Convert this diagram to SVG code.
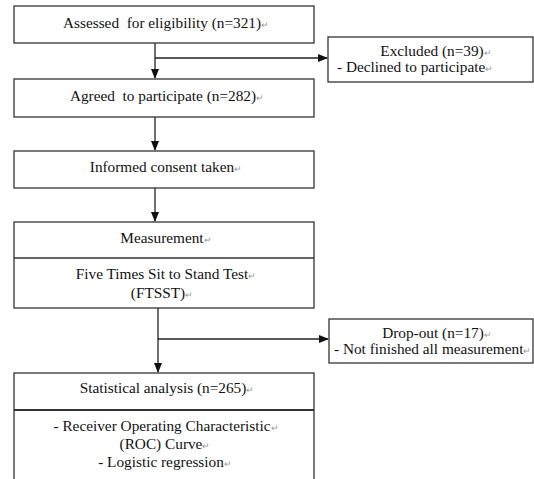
<svg xmlns="http://www.w3.org/2000/svg" width="534" height="479" viewBox="0 0 534 479">
<style>
.box{fill:#fff;stroke:#333;stroke-width:1.3}
.div{stroke:#333;stroke-width:1.5;fill:none}
.t{font-family:"Liberation Serif","Times New Roman",serif;font-size:15.3px;fill:#111}
.c{text-anchor:middle}
.pm{font-size:9px;fill:#999}
.con{stroke:#222;stroke-width:1.3;fill:none}
</style>
<defs>
<marker id="ah" markerUnits="userSpaceOnUse" markerWidth="10" markerHeight="8" refX="9" refY="4" orient="auto">
<path d="M0,0 L10,4 L0,8 z" fill="#111"/>
</marker>
</defs>
<rect width="534" height="479" fill="#fff"/>
<g id="connectors">
<line class="con" x1="155" y1="43" x2="155" y2="78" marker-end="url(#ah)"/>
<line class="con" x1="155" y1="58" x2="327" y2="58" marker-end="url(#ah)"/>
<line class="con" x1="155" y1="117" x2="155" y2="150" marker-end="url(#ah)"/>
<line class="con" x1="155" y1="188" x2="155" y2="221" marker-end="url(#ah)"/>
<line class="con" x1="158" y1="308" x2="158" y2="372" marker-end="url(#ah)"/>
<line class="con" x1="158" y1="339" x2="328" y2="339" marker-end="url(#ah)"/>
</g>
<g id="assessed">
<rect class="box" x="14" y="6" width="300" height="37"/>
<text class="t c" x="166" y="28" xml:space="preserve">Assessed  for eligibility (n=321)<tspan class="pm">↵</tspan></text>
</g>
<g id="excluded">
<rect class="box" x="328" y="37" width="205" height="45"/>
<text class="t c" x="436" y="56">Excluded (n=39)<tspan class="pm">↵</tspan></text>
<text class="t" x="337" y="72">- Declined to participate<tspan class="pm">↵</tspan></text>
</g>
<g id="agreed">
<rect class="box" x="14" y="79" width="300" height="38"/>
<text class="t c" x="167" y="101" xml:space="preserve">Agreed  to participate (n=282)<tspan class="pm">↵</tspan></text>
</g>
<g id="consent">
<rect class="box" x="14" y="151" width="300" height="37"/>
<text class="t c" x="166" y="172">Informed consent taken<tspan class="pm">↵</tspan></text>
</g>
<g id="measurement">
<rect class="box" x="14" y="222" width="300" height="86"/>
<line class="div" x1="14" y1="258" x2="314" y2="258"/>
<text class="t c" x="166" y="243">Measurement<tspan class="pm">↵</tspan></text>
<text class="t c" x="166" y="279">Five Times Sit to Stand Test<tspan class="pm">↵</tspan></text>
<text class="t c" x="162" y="298">(FTSST)<tspan class="pm">↵</tspan></text>
</g>
<g id="dropout">
<rect class="box" x="329" y="319" width="204" height="44"/>
<text class="t c" x="437" y="338">Drop-out (n=17)<tspan class="pm">↵</tspan></text>
<text class="t" x="334" y="354">- Not finished all measurement<tspan class="pm">↵</tspan></text>
</g>
<g id="analysis">
<rect class="box" x="14" y="373" width="300" height="120"/>
<line class="div" x1="14" y1="410" x2="314" y2="410" style="stroke-width:2"/>
<text class="t c" x="167" y="393">Statistical analysis (n=265)<tspan class="pm">↵</tspan></text>
<text class="t c" x="166" y="431">- Receiver Operating Characteristic<tspan class="pm">↵</tspan></text>
<text class="t c" x="165" y="449">(ROC) Curve<tspan class="pm">↵</tspan></text>
<text class="t c" x="165" y="467">- Logistic regression<tspan class="pm">↵</tspan></text>
</g>
</svg>
